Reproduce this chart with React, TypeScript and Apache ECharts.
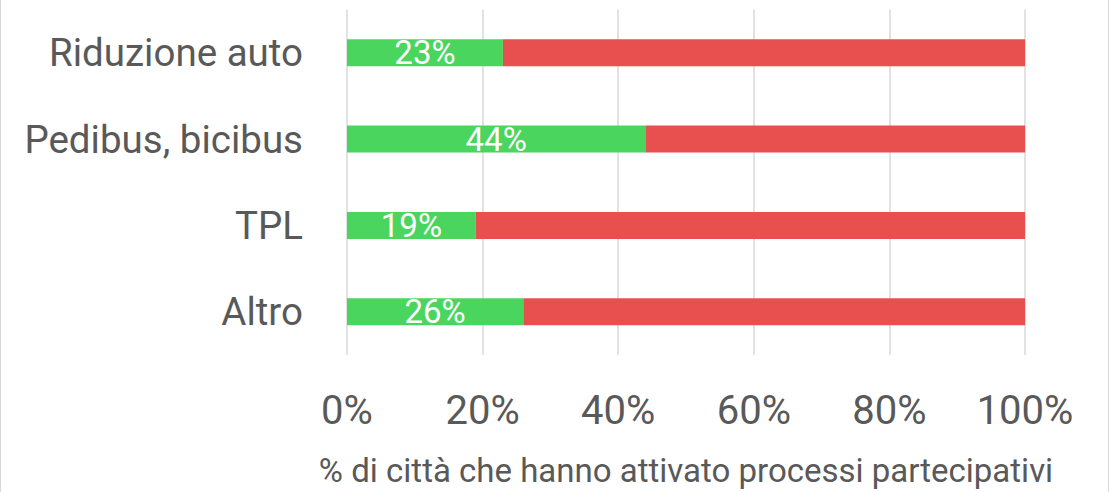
import React, { useEffect, useRef } from "react";
import * as echarts from "echarts";

const categories = ["Riduzione auto", "Pedibus, bicibus", "TPL", "Altro"];
const yesValues = [23, 44, 19, 26];
const noValues = [77, 56, 81, 74];
const xTicks = [0, 20, 40, 60, 80, 100];
const axisName = "% di città che hanno attivato processi partecipativi";

export default function App() {
  const ref = useRef<HTMLDivElement>(null);
  useEffect(() => {
    document.body.style.margin = "0";
    const chart = echarts.init(ref.current!, null, { renderer: "svg" });
    const font = "Roboto";
    chart.setOption({
      animation: false,
      grid: { left: 347, right: 84, top: 9.5, height: 346.5, containLabel: false },
      xAxis: {
        type: "value",
        min: xTicks[0],
        max: xTicks[xTicks.length - 1],
        interval: 20,
        axisLine: { show: false },
        axisTick: { show: false },
        splitLine: { lineStyle: { color: "#d9d9d9", width: 1.5 } },
        axisLabel: {
          formatter: (v: number) => v + "%",
          color: "#595959",
          fontFamily: font,
          fontSize: 40,
          margin: 35,
        },
        name: axisName,
        nameLocation: "middle",
        nameGap: 99,
        nameTextStyle: { color: "#595959", fontFamily: font, fontSize: 33 },
      },
      yAxis: {
        type: "category",
        data: categories,
        inverse: true,
        axisLine: { show: false },
        axisTick: { show: false },
        axisLabel: {
          color: "#595959",
          fontFamily: font,
          fontSize: 38.5,
          margin: 44,
        },
      },
      series: [
        {
          type: "bar",
          stack: "a",
          data: yesValues,
          barWidth: 27,
          itemStyle: { color: "#4AD55E" },
          label: {
            show: true,
            position: "inside",
            formatter: "{c}%",
            color: "#ffffff",
            fontFamily: font,
            fontSize: 33,
          },
        },
        {
          type: "bar",
          stack: "a",
          data: noValues,
          barWidth: 27,
          itemStyle: { color: "#E85050" },
        },
      ],
    });
    return () => chart.dispose();
  }, []);
  return (
    <div
      style={{
        position: "fixed",
        left: 0,
        top: 0,
        width: 1109,
        height: 492,
        boxSizing: "border-box",
        borderLeft: "1px solid #d9d9d9",
        borderRight: "1px solid #d9d9d9",
        background: "#fff",
      }}
    >
      <div ref={ref} style={{ position: "absolute", left: -1, top: 0, width: 1109, height: 492 }} />
    </div>
  );
}
